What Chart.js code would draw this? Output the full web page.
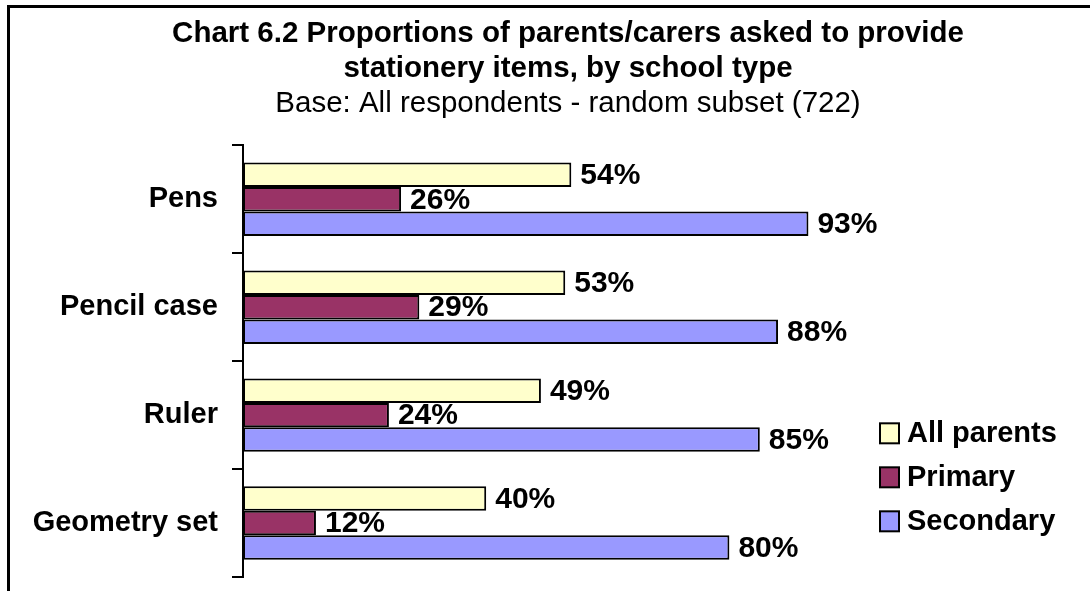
<!DOCTYPE html>
<html>
<head>
<meta charset="utf-8">
<script src="https://cdn.jsdelivr.net/npm/chart.js@4"></script>
<style>
  html, body { margin: 0; padding: 0; overflow: hidden; background: #fff; }
  #frame { position: absolute; left: 7px; top: 5px; width: 2000px; height: 2000px; border: 3px solid #000; }
  #chart { position: absolute; left: 0; top: 0; }
</style>
</head>
<body>
<div id="frame"></div>
<canvas id="chart" width="1136" height="591"></canvas>
<script>
// data
var categories = ['Pens', 'Pencil case', 'Ruler', 'Geometry set'];
var allParents = [54, 53, 49, 40];
var primary = [26, 29, 24, 12];
var secondary = [93, 88, 85, 80];
var seriesNames = ['All parents', 'Primary', 'Secondary'];
var seriesColors = ['#FFFFCC', '#993366', '#9999FF'];

var font = 'Arial, "Liberation Sans", sans-serif';

// value labels at the end of each bar
var barLabels = {
  id: 'barLabels',
  afterDatasetsDraw: function(chart) {
    var ctx = chart.ctx;
    ctx.save();
    ctx.font = 'bold 30px ' + font;
    ctx.fillStyle = '#000';
    ctx.textAlign = 'left';
    ctx.textBaseline = 'middle';
    chart.data.datasets.forEach(function(ds, i) {
      var meta = chart.getDatasetMeta(i);
      meta.data.forEach(function(bar, j) {
        ctx.fillText(ds.data[j] + '%', bar.x + 9, bar.y + 1);
      });
    });
    ctx.restore();
  }
};

// legend drawn by hand so it sits low on the right like the original
var sideLegend = {
  id: 'sideLegend',
  afterDraw: function(chart) {
    var ctx = chart.ctx;
    var area = chart.chartArea;
    ctx.save();
    ctx.font = 'bold 29px ' + font;
    ctx.textAlign = 'left';
    ctx.textBaseline = 'middle';
    chart.data.datasets.forEach(function(ds, i) {
      var x = area.right + 29;
      var y = area.top + 288 + i * 44;
      ctx.fillStyle = ds.backgroundColor;
      ctx.fillRect(x, y - 10, 19, 20);
      ctx.lineWidth = 2;
      ctx.strokeStyle = '#000';
      ctx.strokeRect(x, y - 10, 19, 20);
      ctx.fillStyle = '#000';
      ctx.fillText(ds.label, x + 27, y + 1);
    });
    ctx.restore();
  }
};

function makeSet(i, values) {
  return {
    label: seriesNames[i],
    data: values,
    backgroundColor: seriesColors[i],
    borderColor: '#000',
    borderWidth: 2,
    borderSkipped: false,
    categoryPercentage: 0.68,
    barPercentage: 1.0
  };
}

var chart = new Chart(document.getElementById('chart').getContext('2d'), {
  type: 'bar',
  data: {
    labels: categories,
    datasets: [makeSet(0, allParents), makeSet(1, primary), makeSet(2, secondary)]
  },
  options: {
    indexAxis: 'y',
    responsive: false,
    animation: false,
    layout: { padding: { left: 0, right: 0, top: 0, bottom: 14 } },
    plugins: {
      legend: { display: false },
      tooltip: { enabled: false },
      title: {
        display: true,
        text: ['Chart 6.2 Proportions of parents/carers asked to provide', 'stationery items, by school type'],
        color: '#000',
        font: { family: font, size: 29.5, weight: 'bold', lineHeight: 1.19 },
        padding: { top: 16, bottom: 0 }
      },
      subtitle: {
        display: true,
        text: 'Base: All respondents - random subset (722)',
        color: '#000',
        font: { family: font, size: 29.5, weight: 'normal', lineHeight: 1.19 },
        padding: { top: 0, bottom: 24 }
      }
    },
    scales: {
      x: { display: false, min: 0, max: 100 },
      y: {
        grid: { display: true, drawOnChartArea: false, drawTicks: true, tickLength: 11, color: '#000', lineWidth: 2, offset: true },
        border: { display: true, color: '#000', width: 2 },
        ticks: { color: '#000', padding: 14, font: { family: font, size: 29, weight: 'bold' } },
        afterFit: function(s) { s.width = 243; s.paddingTop = 0; s.paddingBottom = 0; }
      },
      pad: {
        axis: 'y',
        type: 'linear',
        position: 'right',
        display: true,
        grid: { display: false },
        border: { display: false },
        ticks: { display: false },
        afterFit: function(s) { s.width = 285; }
      }
    }
  },
  plugins: [barLabels, sideLegend]
});
</script>
</body>
</html>
